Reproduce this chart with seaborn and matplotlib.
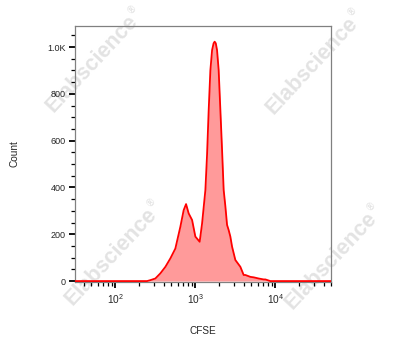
import numpy as np
import pandas as pd
import matplotlib
matplotlib.use("Agg")
import matplotlib.pyplot as plt
import seaborn as sns
from matplotlib.ticker import FixedLocator, MultipleLocator, LogLocator, NullFormatter

# ---- data ----
cfse = [31.6, 249, 274, 316, 365, 422, 487, 562, 649, 714, 765, 825, 910, 1000,
        1132, 1213, 1334, 1400, 1466, 1540, 1618, 1690, 1742, 1800, 1866, 1955,
        2054, 2157, 2259, 2371, 2490, 2608, 2738, 2877, 3162, 3652, 4018, 4217,
        4870, 5354, 6184, 7141, 7499, 8660, 50000]
count = [0, 0, 4, 11, 33, 61, 97, 139, 232, 303, 329, 289, 261, 190,
         168, 246, 389, 540, 727, 900, 987, 1016, 1023, 1016, 987, 902,
         731, 560, 389, 320, 240, 218, 190, 147, 90, 61, 26, 26,
         18, 16, 11, 7, 7, 0, 0]
y_ticks = [0, 200, 400, 600, 800, 1000]
y_labels = ["0", "200", "400", "600", "800", "1.0K"]
x_ticks = [1e2, 1e3, 1e4]
x_labels = ["$10^{2}$", "$10^{3}$", "$10^{4}$"]
watermark = "Elabscience"
watermark_mark = "\u00ae"

df = pd.DataFrame({"CFSE": cfse, "Count": count})

sns.set_style("ticks")
plt.rcParams["font.family"] = ["Liberation Sans", "DejaVu Sans"]
plt.rcParams["mathtext.fontset"] = "custom"
plt.rcParams["mathtext.rm"] = "Liberation Sans"
plt.rcParams["mathtext.it"] = "Liberation Sans"

W, H = 403, 355
fig = plt.figure(figsize=(W / 100, H / 100), dpi=100)
ax = fig.add_axes([0.187, 0.2056, 0.635, 0.7212])
ax.set_facecolor("none")

ax.fill_between(df["CFSE"], df["Count"], 0, color="#ff9a9a", linewidth=0, zorder=2)
sns.lineplot(data=df, x="CFSE", y="Count", ax=ax, color="#ff0000", linewidth=1.3,
             zorder=3, estimator=None, sort=False)

ax.set_xscale("log")
ax.set_xlim(31.6, 50000)
ax.set_ylim(-4, 1090)

ax.xaxis.set_major_locator(FixedLocator(x_ticks))
ax.set_xticklabels(x_labels)
ax.xaxis.set_minor_locator(LogLocator(base=10, subs=np.arange(2, 10)))
ax.xaxis.set_minor_formatter(NullFormatter())

ax.yaxis.set_major_locator(FixedLocator(y_ticks))
ax.set_yticklabels(y_labels)
ax.yaxis.set_minor_locator(MultipleLocator(50))

ax.tick_params(axis="both", which="major", direction="out", length=4.5, width=1.3,
               color="black", pad=2.5)
ax.tick_params(axis="y", which="major", labelsize=6.5)
ax.tick_params(axis="x", which="major", labelsize=7.3, pad=3)
ax.tick_params(axis="both", which="minor", direction="out", length=2.8, width=0.9,
               color="black")

for s in ax.spines.values():
    s.set_color("#808080")
    s.set_linewidth(0.9)
    s.set_visible(True)

ax.set_xlabel("CFSE", fontsize=7.2, labelpad=14)
ax.set_ylabel("Count", fontsize=7.2, labelpad=20)

# watermarks (drawn behind the transparent axes)
angle = 47
fs = 15.5
tmp = fig.text(0, 0, watermark, fontsize=fs, fontweight="bold")
fig.canvas.draw()
tw = tmp.get_window_extent().width
tmp.remove()
ca, sa = np.cos(np.radians(angle)), np.sin(np.radians(angle))
for (cx, cy) in [(92, 64), (312, 66), (111, 257), (331, 261)]:
    x0 = cx - ca * tw / 2
    y0 = (H - cy) - sa * tw / 2
    fig.text(x0 / W, y0 / H, watermark, rotation=angle, ha="left", va="center",
             rotation_mode="anchor", fontsize=fs, fontweight="bold",
             color="#e3e3e3", zorder=-1)
    ex = x0 + ca * (tw + 1) - sa * 6.5
    ey = y0 + sa * (tw + 1) + ca * 6.5
    fig.text(ex / W, ey / H, watermark_mark, rotation=angle, ha="left", va="center",
             rotation_mode="anchor", fontsize=7, fontweight="bold",
             color="#e3e3e3", zorder=-1)

fig.savefig("out.png", dpi=100)
